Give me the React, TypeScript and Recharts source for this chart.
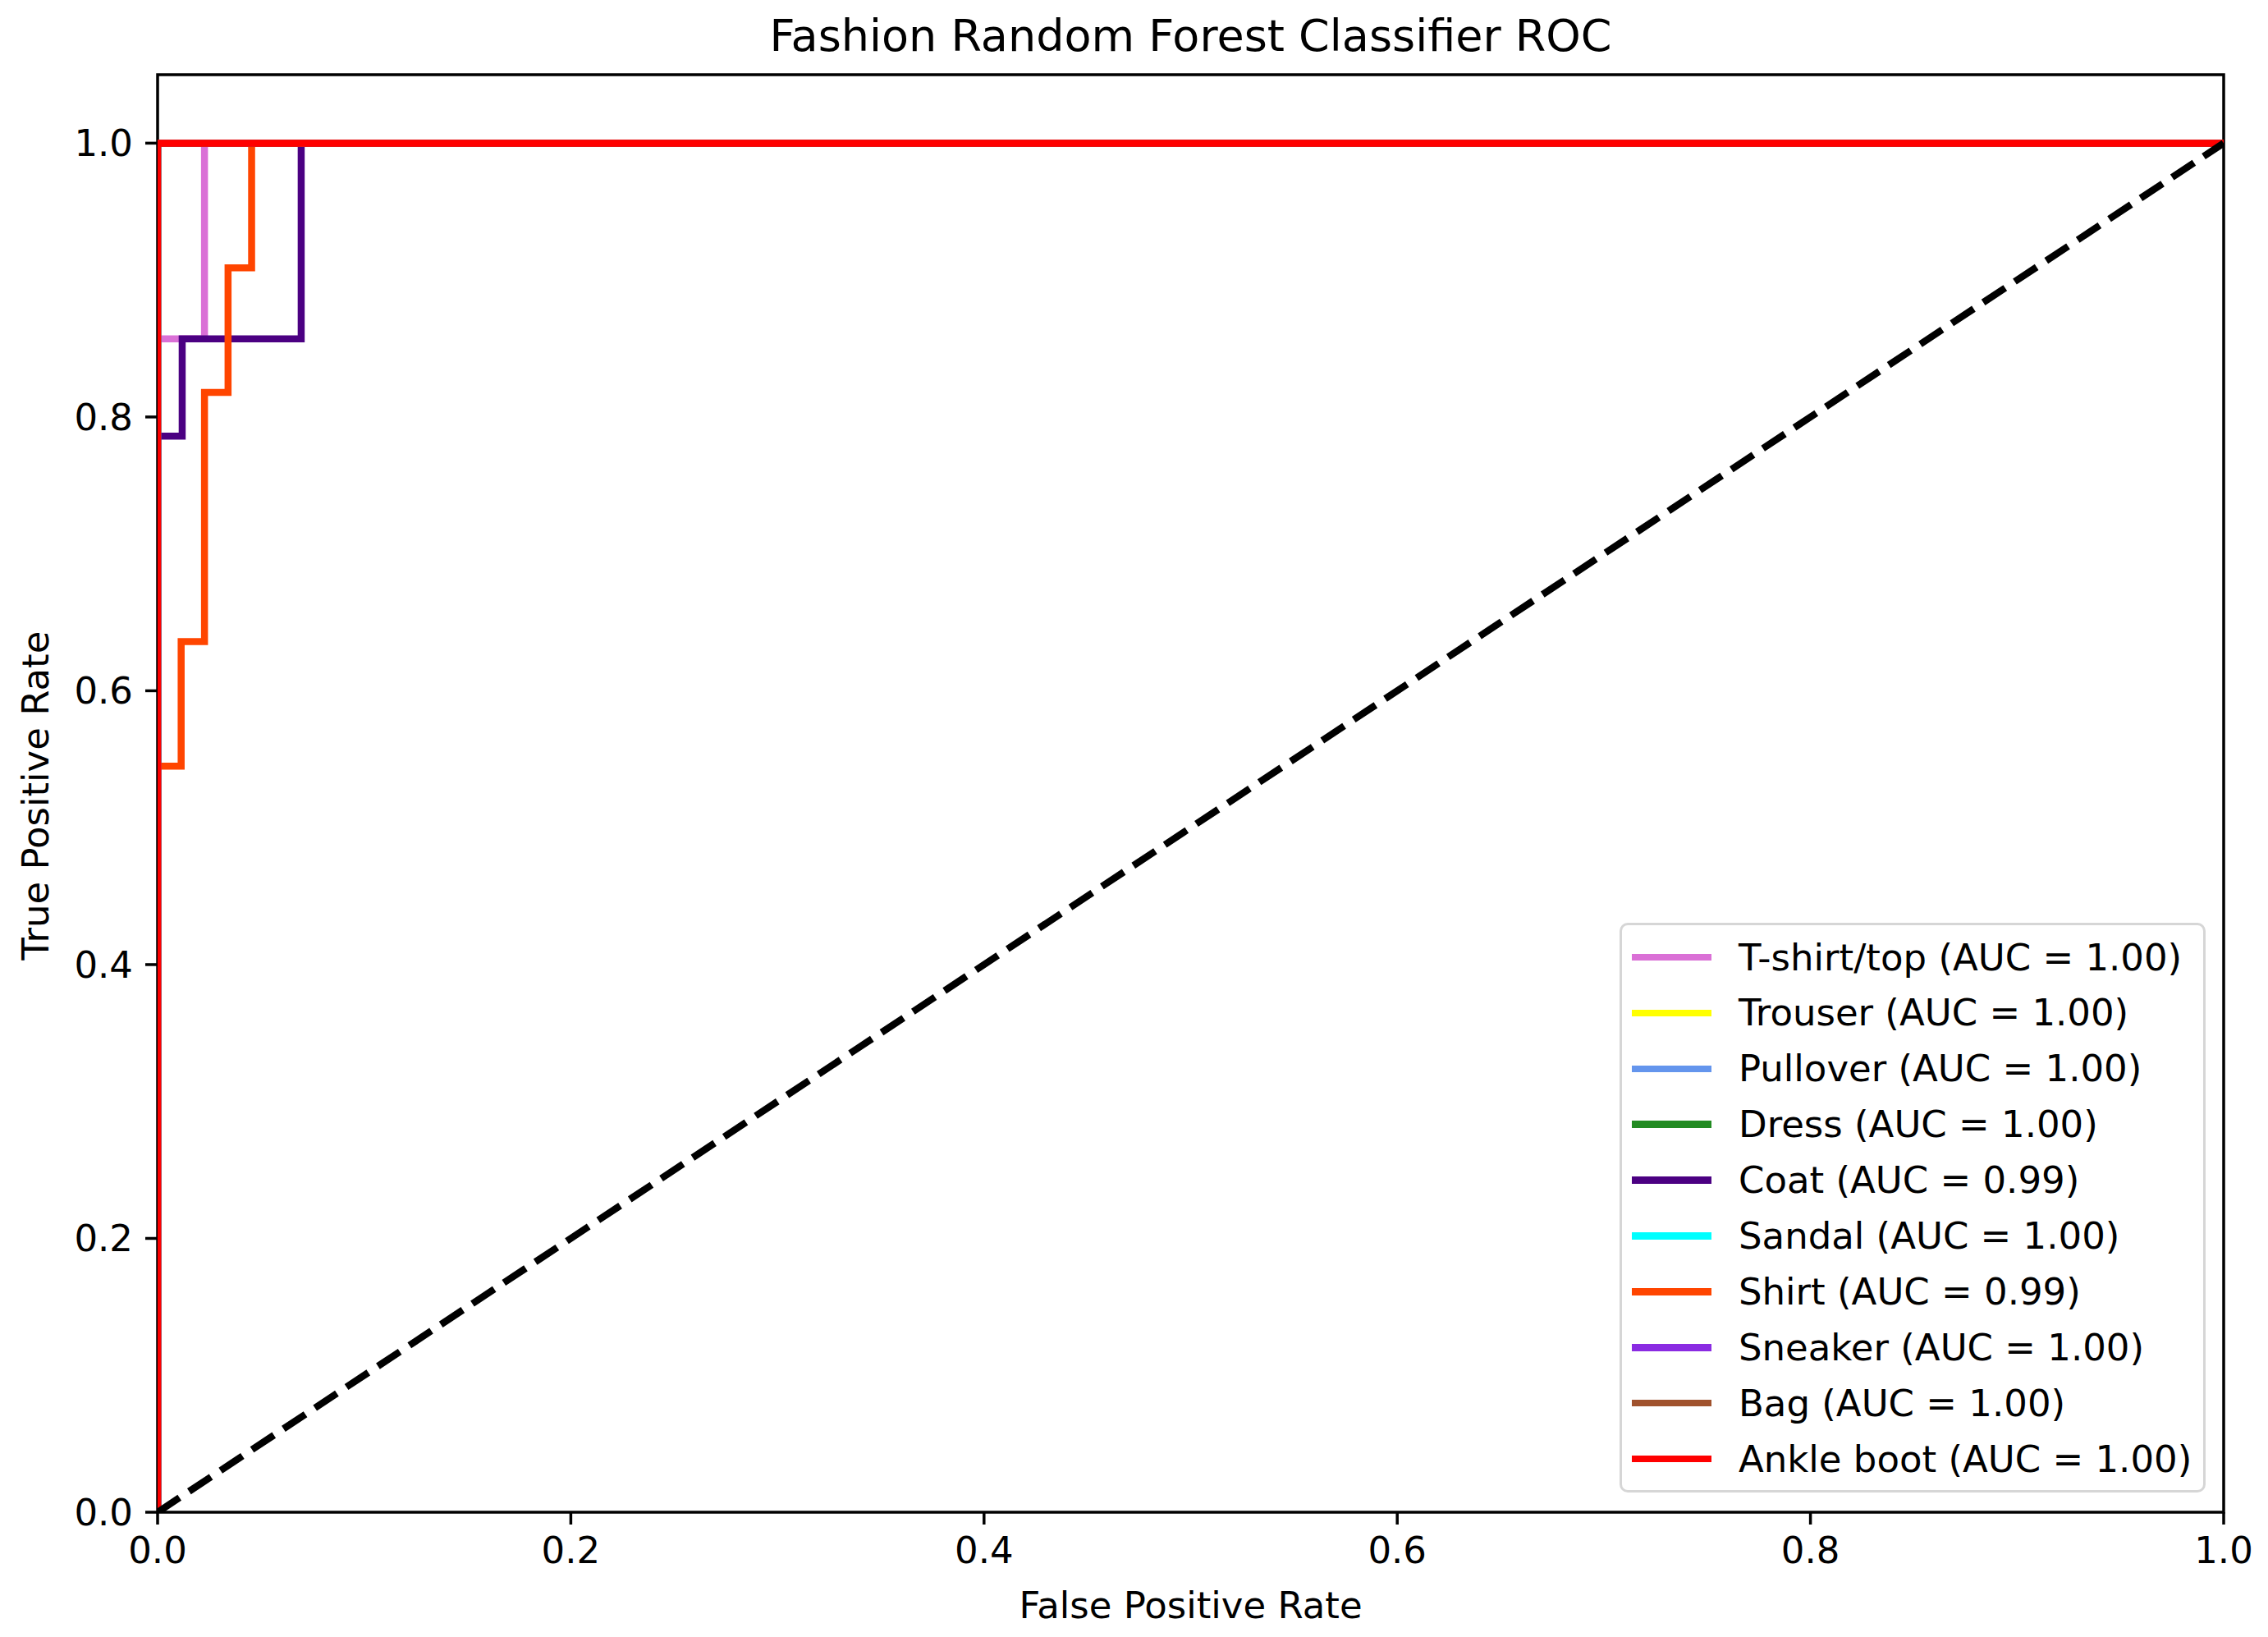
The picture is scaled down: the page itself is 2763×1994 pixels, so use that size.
import React from 'react';
import { LineChart, Line, XAxis, YAxis, ReferenceArea } from 'recharts';

const CLASSES = ['T-shirt/top', 'Trouser', 'Pullover', 'Dress', 'Coat', 'Sandal', 'Shirt', 'Sneaker', 'Bag', 'Ankle boot'];
const COLORS = ['#DA70D6', '#FFFF00', '#6495ED', '#228B22', '#4B0082', '#00FFFF', '#FF4500', '#8A2BE2', '#A0522D', '#FF0000'];
const AUCS = ['1.00', '1.00', '1.00', '1.00', '0.99', '1.00', '0.99', '1.00', '1.00', '1.00'];

// ROC step points per class (fpr, tpr)
const PERFECT_FPR = [0, 0, 1];
const PERFECT_TPR = [0, 1, 1];
const TSHIRT_FPR = [0, 0, 0.0227, 0.0227, 1];
const TSHIRT_TPR = [0, 0.857, 0.857, 1, 1];
const COAT_FPR = [0, 0, 0.0119, 0.0119, 0.0695, 0.0695, 1];
const COAT_TPR = [0, 0.786, 0.786, 0.857, 0.857, 1, 1];
const SHIRT_FPR = [0, 0, 0.0114, 0.0114, 0.0227, 0.0227, 0.0341, 0.0341, 0.0455, 0.0455, 1];
const SHIRT_TPR = [0, 0.545, 0.545, 0.636, 0.636, 0.818, 0.818, 0.909, 0.909, 1, 1];
const DIAG_FPR = [0, 1];
const DIAG_TPR = [0, 1];

const X_TICKS = [0, 0.2, 0.4, 0.6, 0.8, 1.0];
const Y_TICKS = [0, 0.2, 0.4, 0.6, 0.8, 1.0];

const zip = (xs: number[], ys: number[]) => xs.map((x, i) => ({ fpr: x, tpr: ys[i] }));

const CURVES = CLASSES.map((name) => {
  if (name === 'T-shirt/top') return zip(TSHIRT_FPR, TSHIRT_TPR);
  if (name === 'Coat') return zip(COAT_FPR, COAT_TPR);
  if (name === 'Shirt') return zip(SHIRT_FPR, SHIRT_TPR);
  return zip(PERFECT_FPR, PERFECT_TPR);
});

const FONT = '"DejaVu Sans", sans-serif';
const LW = 8.5;

const App = () => {
  return (
    <div style={{ position: 'relative', width: 2763, height: 1994, background: '#fff', fontFamily: FONT }}>
      <style>{'body{margin:0}'}</style>
      <LineChart width={2763} height={1994} margin={{ top: 91, right: 54, bottom: 42, left: 42 }}>
        <XAxis
          type="number"
          dataKey="fpr"
          domain={[0, 1]}
          ticks={X_TICKS}
          allowDataOverflow
          tickFormatter={(v: number) => v.toFixed(1)}
          height={110}
          tickSize={15}
          tickMargin={15}
          axisLine={false}
          tickLine={{ stroke: '#000', strokeWidth: 3.5 }}
          tick={{ fill: '#000', fontSize: 45, fontFamily: FONT }}
        />
        <YAxis
          type="number"
          dataKey="tpr"
          domain={[0, 1.05]}
          ticks={Y_TICKS}
          allowDataOverflow
          tickFormatter={(v: number) => v.toFixed(1)}
          width={150}
          tickSize={15}
          tickMargin={15}
          axisLine={false}
          tickLine={{ stroke: '#000', strokeWidth: 3.5 }}
          tick={{ fill: '#000', fontSize: 45, fontFamily: FONT }}
        />
        {CURVES.map((d, i) => (
          <Line
            key={CLASSES[i]}
            data={d}
            dataKey="tpr"
            type="linear"
            stroke={COLORS[i]}
            strokeWidth={LW}
            dot={false}
            activeDot={false}
            isAnimationActive={false}
          />
        ))}
        <Line
          data={zip(DIAG_FPR, DIAG_TPR)}
          dataKey="tpr"
          type="linear"
          stroke="#000"
          strokeWidth={LW}
          strokeDasharray="32 14"
          dot={false}
          activeDot={false}
          isAnimationActive={false}
        />
        <ReferenceArea x1={0} x2={1} y1={0} y2={1.05} fill="none" stroke="#000" strokeWidth={3.5} ifOverflow="visible" />
      </LineChart>

      <div style={{ position: 'absolute', left: 0, width: 2901, top: 12, textAlign: 'center', fontSize: 54, lineHeight: '64px', color: '#000' }}>
        Fashion Random Forest Classifier ROC
      </div>
      <div style={{ position: 'absolute', left: 0, width: 2901, top: 1928, textAlign: 'center', fontSize: 45, lineHeight: '56px', color: '#000' }}>
        False Positive Rate
      </div>
      <div style={{ position: 'absolute', left: 44 - 400, top: 969 - 28, width: 800, height: 56, lineHeight: '56px', textAlign: 'center', fontSize: 45, color: '#000', transform: 'rotate(-90deg)' }}>
        True Positive Rate
      </div>

      <div style={{ position: 'absolute', left: 1973, top: 1124, width: 714, height: 694, border: '3px solid #d6d6d6', borderRadius: 10, boxSizing: 'border-box', background: 'rgba(255,255,255,0.8)' }}>
        {CLASSES.map((name, i) => (
          <div key={name} style={{ position: 'absolute', left: 0, top: 39 + i * 67.9 - 34, height: 68, display: 'flex', alignItems: 'center', whiteSpace: 'nowrap' }}>
            <div style={{ marginLeft: 12, width: 97, height: LW, background: COLORS[i] }} />
            <span style={{ marginLeft: 33, fontSize: 45, color: '#000' }}>{`${name} (AUC = ${AUCS[i]})`}</span>
          </div>
        ))}
      </div>
    </div>
  );
};

export default App;
